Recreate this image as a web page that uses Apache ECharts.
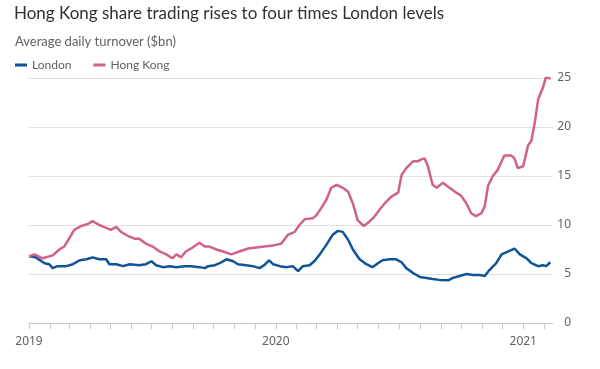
<!DOCTYPE html>
<html><head><meta charset="utf-8">
<script src="https://cdn.jsdelivr.net/npm/echarts@6/dist/echarts.min.js"></script>
<style>html,body{margin:0;padding:0;background:#fff}#c{width:600px;height:369px}</style>
</head><body><div id="c"></div>
<script>
const hkDates = ['2019-01-01','2019-01-09','2019-01-21','2019-02-05','2019-02-15','2019-02-22','2019-03-02','2019-03-09','2019-03-19','2019-03-29','2019-04-05','2019-04-15','2019-04-25','2019-05-02','2019-05-10','2019-05-17','2019-05-27','2019-06-06','2019-06-13','2019-06-23','2019-07-03','2019-07-13','2019-07-23','2019-08-01','2019-08-07','2019-08-14','2019-08-21','2019-08-31','2019-09-10','2019-09-18','2019-09-25','2019-10-05','2019-10-15','2019-10-27','2019-11-08','2019-11-21','2019-12-03','2019-12-15','2019-12-28','2020-01-09','2020-01-19','2020-01-29','2020-02-05','2020-02-13','2020-02-25','2020-03-01','2020-03-08','2020-03-16','2020-03-23','2020-03-31','2020-04-09','2020-04-17','2020-04-24','2020-05-01','2020-05-10','2020-05-16','2020-05-24','2020-06-03','2020-06-10','2020-06-20','2020-06-30','2020-07-05','2020-07-12','2020-07-22','2020-07-29','2020-08-03','2020-08-08','2020-08-13','2020-08-20','2020-08-26','2020-09-04','2020-09-14','2020-09-24','2020-10-01','2020-10-09','2020-10-16','2020-10-23','2020-10-31','2020-11-05','2020-11-10','2020-11-17','2020-11-24','2020-12-04','2020-12-14','2020-12-19','2020-12-24','2021-01-01','2021-01-08','2021-01-13','2021-01-18','2021-01-23','2021-01-30','2021-02-04','2021-02-10'];
const hkValues = [6.8,7.0,6.6,6.9,7.5,7.8,8.7,9.5,9.9,10.1,10.4,10.0,9.7,9.5,9.8,9.3,8.9,8.6,8.6,8.1,7.8,7.3,7.0,6.6,7.0,6.7,7.3,7.7,8.2,7.8,7.8,7.5,7.3,7.0,7.3,7.6,7.7,7.8,7.9,8.1,9.0,9.3,10.0,10.6,10.7,11.0,11.7,12.6,13.8,14.1,13.8,13.4,12.2,10.5,9.9,10.2,10.7,11.6,12.2,12.9,13.3,15.1,15.8,16.5,16.5,16.7,16.8,16.0,14.1,13.8,14.3,13.8,13.3,13.0,12.2,11.2,10.9,11.2,11.9,14.0,15.0,15.6,17.1,17.1,16.8,15.8,16.0,18.1,18.6,20.4,22.8,24.0,25.2,24.9];
const ldnDates = ['2019-01-01','2019-01-11','2019-01-24','2019-01-31','2019-02-05','2019-02-12','2019-02-25','2019-03-07','2019-03-17','2019-03-27','2019-04-05','2019-04-15','2019-04-25','2019-04-30','2019-05-10','2019-05-20','2019-05-30','2019-06-13','2019-06-23','2019-07-01','2019-07-08','2019-07-18','2019-07-28','2019-08-07','2019-08-19','2019-08-29','2019-09-10','2019-09-18','2019-09-23','2019-10-03','2019-10-10','2019-10-20','2019-10-30','2019-11-06','2019-11-18','2019-11-28','2019-12-08','2019-12-15','2019-12-22','2019-12-28','2020-01-07','2020-01-17','2020-01-26','2020-02-03','2020-02-10','2020-02-20','2020-02-27','2020-03-06','2020-03-16','2020-03-25','2020-04-02','2020-04-09','2020-04-17','2020-04-24','2020-05-04','2020-05-14','2020-05-23','2020-05-31','2020-06-07','2020-06-17','2020-06-27','2020-07-05','2020-07-12','2020-07-22','2020-08-01','2020-08-11','2020-08-20','2020-08-30','2020-09-12','2020-09-19','2020-09-29','2020-10-09','2020-10-19','2020-10-29','2020-11-05','2020-11-12','2020-11-22','2020-11-30','2020-12-10','2020-12-19','2020-12-27','2021-01-06','2021-01-13','2021-01-23','2021-01-30','2021-02-04','2021-02-10'];
const ldnValues = [6.8,6.7,6.1,6.0,5.6,5.8,5.8,6.0,6.4,6.5,6.7,6.5,6.5,6.0,6.0,5.8,6.0,5.9,6.0,6.3,5.9,5.7,5.8,5.7,5.8,5.8,5.7,5.6,5.8,5.9,6.1,6.5,6.3,6.0,5.9,5.8,5.6,5.9,6.4,6.0,5.8,5.7,5.8,5.3,5.8,5.9,6.3,7.0,8.0,9.0,9.4,9.3,8.5,7.5,6.5,6.0,5.7,6.1,6.4,6.5,6.5,6.2,5.6,5.1,4.7,4.6,4.5,4.4,4.35,4.6,4.8,5.0,4.9,4.9,4.8,5.4,6.1,7.0,7.3,7.6,7.0,6.6,6.1,5.8,5.9,5.8,6.2];
const yearLabels = ['2019','2020','2021'];
const yTicks = [0,5,10,15,20,25];

const DAY = 86400000, T0 = Date.UTC(2019,0,1);
const toDay = s => { const p = s.split('-').map(Number); return (Date.UTC(p[0],p[1]-1,p[2]) - T0)/DAY; };
const monthTicks = [];
for (let y = 2019; y <= 2021; y++) for (let m = 0; m < 12; m++) {
  const d = (Date.UTC(y,m,1)-T0)/DAY; if (d <= 775) monthTicks.push(d);
}
const yearTicks = yearLabels.map(y => (Date.UTC(+y,0,1)-T0)/DAY);

const chart = echarts.init(document.getElementById('c'), null, {renderer:'canvas'});
chart.setOption({
  backgroundColor:'#ffffff',
  animation:false,
  title:[
    {text:'Hong Kong share trading rises to four times London levels', left:14, top:5, padding:0,
     textStyle:{fontFamily:'Lato', fontSize:17, fontWeight:'normal', color:'#33302e'}},
    {text:'Average daily turnover ($bn)', left:15, top:35, padding:0,
     textStyle:{fontFamily:'Lato', fontSize:13, fontWeight:'normal', color:'#66605c'}},
  ],
  legend:{left:15, top:59, padding:0, icon:'rect', itemWidth:12, itemHeight:3, itemGap:22, itemTextGap:8,
    textStyle:{fontFamily:'Lato', fontSize:12, color:'#66605c'},
    data:['London','Hong Kong']},
  grid:{left:29, right:47, top:78, bottom:46},
  xAxis:{type:'value', min:0, max:775,
    axisLine:{lineStyle:{color:'#c8c6c4', width:1}},
    axisTick:{show:true, length:6, customValues:monthTicks, lineStyle:{color:'#c8c6c4'}},
    axisLabel:{customValues:yearTicks, margin:13, color:'#66605c', fontFamily:'Noto Sans', fontSize:12,
      formatter:v=>yearLabels[yearTicks.findIndex(t=>Math.abs(t-v)<1)] || ''},
    splitLine:{show:false}},
  yAxis:{type:'value', position:'right', min:0, max:25, interval:5,
    axisLine:{show:false}, axisTick:{show:false},
    axisLabel:{align:'right', margin:18, color:'#66605c', fontFamily:'Noto Sans', fontSize:12},
    splitLine:{lineStyle:{color:'#e3e1df', width:1}}},
  series:[
    {name:'London', type:'line', showSymbol:false, color:'#0f5499',
     lineStyle:{width:2.5, color:'#0f5499'},
     data:ldnDates.map((d,i)=>[toDay(d), ldnValues[i]])},
    {name:'Hong Kong', type:'line', showSymbol:false, color:'#d0618f',
     lineStyle:{width:2.5, color:'#d0618f'},
     data:hkDates.map((d,i)=>[toDay(d), hkValues[i]])}
  ]
});
</script></body></html>
